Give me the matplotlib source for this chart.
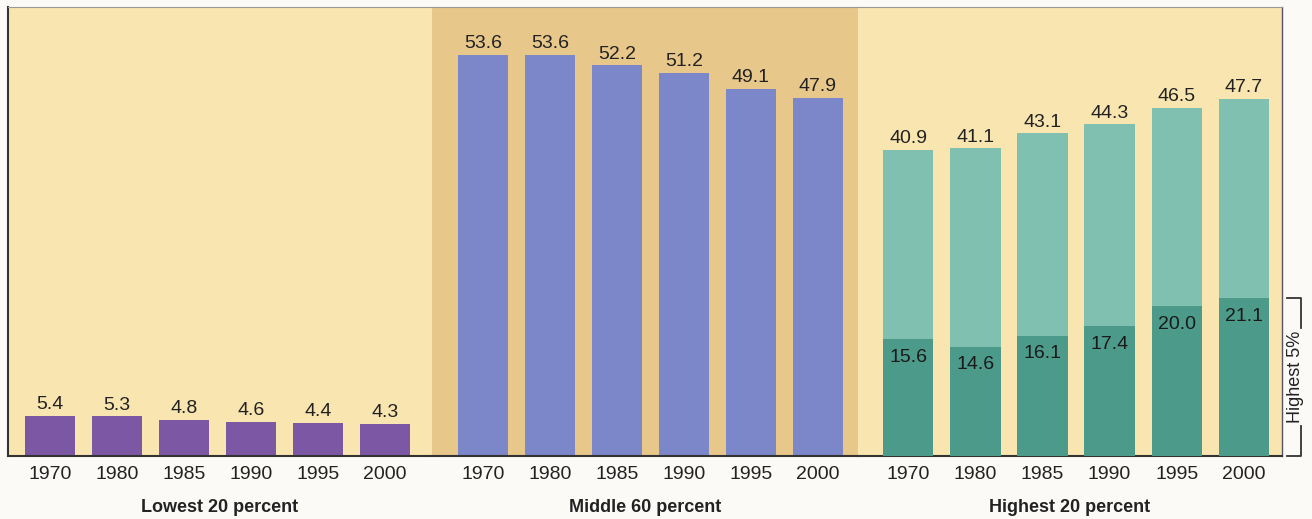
import matplotlib
matplotlib.use("Agg")
import matplotlib.pyplot as plt
from matplotlib.transforms import blended_transform_factory

years = ["1970", "1980", "1985", "1990", "1995", "2000"]
panel_titles = ["Lowest 20 percent", "Middle 60 percent", "Highest 20 percent"]
lowest20 = [5.4, 5.3, 4.8, 4.6, 4.4, 4.3]
middle60 = [53.6, 53.6, 52.2, 51.2, 49.1, 47.9]
highest20 = [40.9, 41.1, 43.1, 44.3, 46.5, 47.7]
highest5 = [15.6, 14.6, 16.1, 17.4, 20.0, 21.1]

plt.rcParams['font.family'] = ['Liberation Sans', 'DejaVu Sans']

fig = plt.figure(figsize=(13.12, 5.19), dpi=100, facecolor="#fbfaf7")
left, right, bottom, top = 8/1312, 1282/1312, 63/519, 512/519
edges = [8, 432, 858, 1282]
xlims = [(-0.63, 5.7), (-0.76, 5.6), (-0.75, 5.57)]

bg = ["#f9e5b0", "#e8c78b", "#f9e5b0"]
bar_colors = ["#7c58a4", "#7b87c8", "#80c0b0"]
dark_teal = "#4b9a8a"
series = [lowest20, middle60, highest20]

axes = []
for i in range(3):
    ax = fig.add_axes([edges[i] / 1312, bottom, (edges[i + 1] - edges[i]) / 1312, top - bottom])
    ax.set_facecolor(bg[i])
    x = list(range(len(years)))
    ax.bar(x, series[i], width=0.75, color=bar_colors[i], zorder=2)
    for xi, v in zip(x, series[i]):
        ax.annotate(f"{v:.1f}", (xi, v), xytext=(0, 2), textcoords="offset points",
                    ha="center", va="bottom", fontsize=14, color="#222222")
    if i == 2:
        ax.bar(x, highest5, width=0.75, color=dark_teal, zorder=3)
        for xi, v in zip(x, highest5):
            ax.annotate(f"{v:.1f}", (xi, v), xytext=(0, -7), textcoords="offset points",
                        ha="center", va="top", fontsize=14, color="#1a1a1a", zorder=4)
    ax.set_xlim(*xlims[i])
    ax.set_ylim(0, 60)
    ax.set_yticks([])
    ax.set_xticks(x)
    ax.set_xticklabels(years, fontsize=14, color="#222222")
    ax.tick_params(axis="x", length=0, pad=7)
    for s in ["left", "right"]:
        ax.spines[s].set_visible(False)
    ax.spines["bottom"].set_color("#333333")
    ax.spines["bottom"].set_linewidth(1.5)
    ax.spines["top"].set_color("#999999")
    ax.spines["top"].set_linewidth(0.8)
    ax.text(0.5, -0.095, panel_titles[i], transform=ax.transAxes, ha="center",
            va="top", fontsize=13, fontweight="bold", color="#222222")
    axes.append(ax)

axes[0].spines["left"].set_visible(True)
axes[0].spines["left"].set_color("#333333")
axes[0].spines["left"].set_linewidth(1.5)
axes[2].spines["right"].set_visible(True)
axes[2].spines["right"].set_color("#555566")
axes[2].spines["right"].set_linewidth(1.0)

# Highest 5% bracket
ax = axes[2]
tr = blended_transform_factory(fig.transFigure, ax.transData)
xb = 1301 / 1312
xt = 1287 / 1312
ytop = max(highest5)
ymid = ytop / 2
ax.plot([xt, xb, xb], [ytop, ytop, ymid + 6.6], transform=tr, color="#333333",
        lw=1.3, clip_on=False)
ax.plot([xt, xb, xb], [0, 0, ymid - 6.6], transform=tr, color="#333333",
        lw=1.3, clip_on=False)
ax.text(1296 / 1312, ymid, "Highest 5%", transform=tr, rotation=90, ha="center",
        va="center", fontsize=13, color="#222222")

fig.savefig("out.png", dpi=100, facecolor=fig.get_facecolor())
